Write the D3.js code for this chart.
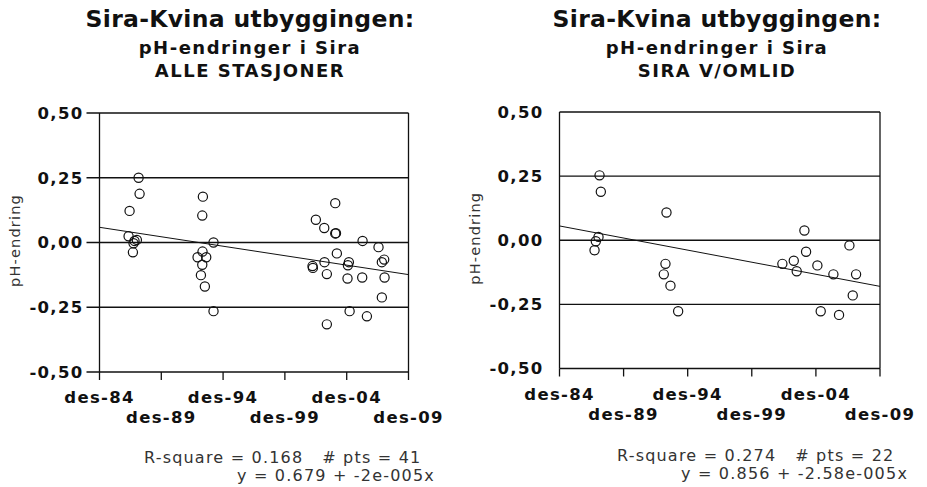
<!DOCTYPE html>
<html lang="no">
<head>
<meta charset="UTF-8">
<title>Sira-Kvina utbyggingen: pH-endringer i Sira</title>
<style>
  body { margin: 0; background: #fff; }
  svg { font-family: "DejaVu Sans", Verdana, sans-serif; }
  .title { font-size: 23.5px; font-weight: bold; fill: #111; letter-spacing: 0.3px; }
  .sub { font-size: 18px; font-weight: bold; fill: #111; letter-spacing: 1.5px; }
  .tick-label { font-size: 16.5px; font-weight: bold; fill: #111; letter-spacing: 1.3px; }
  .ylab { font-size: 14.5px; fill: #333; letter-spacing: 1.2px; }
  .stats { font-size: 16px; fill: #333; letter-spacing: 1.2px; }
</style>
</head>
<body>
<div id="chart"></div>
<script src="https://d3js.org/d3.v7.min.js"></script>
<script>
// ---- data (decimal years, pH change) ----
const allYears = [1988.08, 1988.16, 1987.35, 1987.27, 1987.94, 1987.67, 1987.62, 1987.75,
  1993.28, 1993.23, 1994.14, 1993.25, 1992.85, 1993.55, 1993.23, 1993.12, 1993.44, 1994.14,
  2003.99, 2002.42, 2003.10, 2003.99, 2004.05, 2004.12, 2002.15, 2002.18, 2003.12, 2003.31,
  2005.09, 2005.01, 2004.98, 2005.15, 2003.31, 2006.20, 2006.17, 2006.55, 2007.49, 2007.95,
  2007.76, 2007.98, 2007.76];
const allValues = [0.250, 0.188, 0.122, 0.024, 0.010, -0.003, -0.038, 0.006,
  0.177, 0.104, 0.000, -0.035, -0.057, -0.057, -0.086, -0.126, -0.170, -0.265,
  0.152, 0.088, 0.056, 0.035, 0.036, -0.042, -0.091, -0.098, -0.076, -0.122,
  -0.076, -0.088, -0.139, -0.265, -0.316, 0.006, -0.135, -0.285, -0.018, -0.066,
  -0.076, -0.135, -0.212];

const omlidYears = [1988.04, 1988.14, 1987.96, 1987.75, 1987.65,
  1993.26, 1993.18, 1993.05, 1993.57, 1994.17,
  2004.02, 2004.15, 2002.30, 2003.19, 2003.42, 2005.03, 2006.28, 2005.29, 2006.72,
  2007.53, 2008.05, 2007.79];
const omlidValues = [0.253, 0.189, 0.013, -0.004, -0.039,
  0.108, -0.092, -0.133, -0.177, -0.277,
  0.038, -0.045, -0.092, -0.080, -0.121, -0.098, -0.133, -0.277, -0.291,
  -0.020, -0.133, -0.215];

const yTicks = [0.5, 0.25, 0, -0.25, -0.5];
const yTickLabels = ["0,50", "0,25", "0,00", "-0,25", "-0,50"];
const xTickYears = [1984, 1989, 1994, 1999, 2004, 2009];
const xTickLabels = ["des-84", "des-89", "des-94", "des-99", "des-04", "des-09"];

const panels = [
  { sub2: "ALLE STASJONER", years: allYears, values: allValues,
    a: 0.679, b: -2e-5, stats1: "R-square = 0.168   # pts = 41", stats2: "y = 0.679 + -2e-005x",
    left: 99.5, right: 408.5, top: 113, bottom: 372, yTickOut: 13,
    titleX: 250, s1x: 144, s1y: 463, s2x: 237, s2y: 481 },
  { sub2: "SIRA V/OMLID", years: omlidYears, values: omlidValues,
    a: 0.856, b: -2.58e-5, stats1: "R-square = 0.274   # pts = 22", stats2: "y = 0.856 + -2.58e-005x",
    left: 559.5, right: 880, top: 112, bottom: 368.5, yTickOut: 0,
    titleX: 717, s1x: 617, s1y: 461, s2x: 681, s2y: 479 }
];

function toDate(yr) {
  const y = Math.floor(yr);
  const start = new Date(y, 0, 1), end = new Date(y + 1, 0, 1);
  return new Date(+start + (yr - y) * (end - start));
}
// Excel serial day number (x in the regression formulas)
function excelDay(d) {
  return (Date.UTC(d.getFullYear(), d.getMonth(), d.getDate()) - Date.UTC(1899, 11, 30)) / 86400000;
}

const svg = d3.select("#chart").append("svg")
  .attr("width", 927).attr("height", 487);

panels.forEach(p => {
  const g = svg.append("g");
  const x = d3.scaleTime()
    .domain([new Date(1984, 11, 1), new Date(2009, 11, 1)])
    .range([p.left, p.right]);
  const y = d3.scaleLinear().domain([-0.5, 0.5]).range([p.bottom, p.top]);

  // titles
  g.append("text").attr("class", "title").attr("x", p.titleX).attr("y", 27)
    .attr("text-anchor", "middle").text("Sira-Kvina utbyggingen:");
  g.append("text").attr("class", "sub").attr("x", p.titleX).attr("y", 54)
    .attr("text-anchor", "middle").text("pH-endringer i Sira");
  g.append("text").attr("class", "sub").attr("x", p.titleX).attr("y", 77)
    .attr("text-anchor", "middle").text(p.sub2);

  // grid lines + frame
  g.selectAll("line.grid").data(yTicks).enter().append("line")
    .attr("class", "grid")
    .attr("x1", p.left - p.yTickOut).attr("x2", p.right)
    .attr("y1", d => y(d)).attr("y2", d => y(d))
    .attr("stroke", "#111").attr("stroke-width", 1.3);
  g.append("line").attr("x1", p.left).attr("x2", p.left)
    .attr("y1", p.top).attr("y2", p.bottom).attr("stroke", "#111").attr("stroke-width", 1.3);
  g.append("line").attr("x1", p.right).attr("x2", p.right)
    .attr("y1", p.top).attr("y2", p.bottom).attr("stroke", "#111").attr("stroke-width", 1.3);

  // x ticks
  const tickDates = xTickYears.map(yr => new Date(yr, 11, 1));
  g.selectAll("line.xt").data(tickDates).enter().append("line")
    .attr("x1", d => x(d)).attr("x2", d => x(d))
    .attr("y1", p.bottom).attr("y2", p.bottom + 8)
    .attr("stroke", "#111").attr("stroke-width", 1.3);
  g.selectAll("text.xl").data(tickDates).enter().append("text")
    .attr("class", "tick-label")
    .attr("x", d => x(d))
    .attr("y", (d, i) => p.bottom + (i % 2 === 0 ? 31 : 51))
    .attr("text-anchor", "middle")
    .text((d, i) => xTickLabels[i]);

  // y tick labels
  g.selectAll("text.yl").data(yTicks).enter().append("text")
    .attr("class", "tick-label")
    .attr("x", p.left - 16)
    .attr("y", d => y(d)).attr("dy", "0.36em")
    .attr("text-anchor", "end")
    .text((d, i) => yTickLabels[i]);

  g.append("text").attr("class", "ylab")
    .attr("transform", `translate(${p.left - 80},${(p.top + p.bottom) / 2 - 2}) rotate(-90)`)
    .attr("text-anchor", "middle").text("pH-endring");

  // regression line
  const d0 = x.domain()[0], d1 = x.domain()[1];
  g.append("line")
    .attr("x1", x(d0)).attr("y1", y(p.a + p.b * excelDay(d0)))
    .attr("x2", x(d1)).attr("y2", y(p.a + p.b * excelDay(d1)))
    .attr("stroke", "#111").attr("stroke-width", 1);

  // points
  g.selectAll("circle").data(p.years).enter().append("circle")
    .attr("cx", d => x(toDate(d)))
    .attr("cy", (d, i) => y(p.values[i]))
    .attr("r", 4.6)
    .attr("fill", "none").attr("stroke", "#111").attr("stroke-width", 1.2);

  // stats
  g.append("text").attr("class", "stats").attr("x", p.s1x).attr("y", p.s1y)
    .attr("xml:space", "preserve").style("white-space", "pre").text(p.stats1);
  g.append("text").attr("class", "stats").attr("x", p.s2x).attr("y", p.s2y).text(p.stats2);
});
</script>
</body>
</html>
